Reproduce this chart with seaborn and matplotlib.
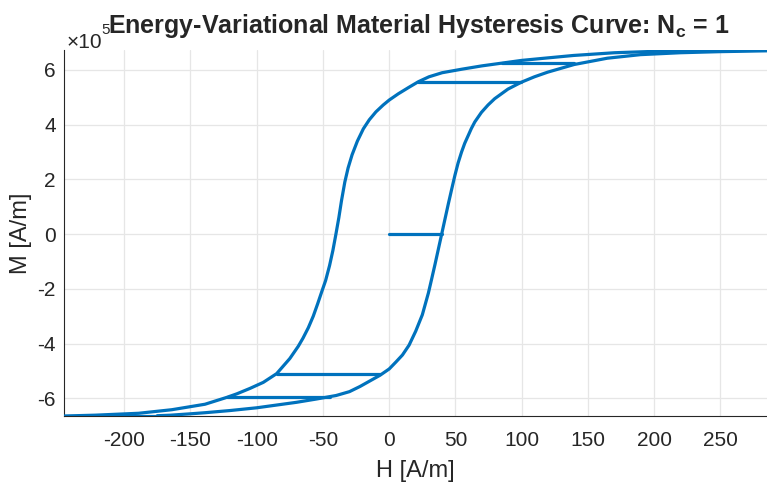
import numpy as np
import pandas as pd
import matplotlib
matplotlib.use("Agg")
import matplotlib.pyplot as plt
import seaborn as sns
from matplotlib.ticker import FixedLocator, FuncFormatter

# ---- data (M in units of 1e5 A/m) ----
# ascending branch
asc_H = [-175, -165, -150, -139, -120, -100, -85, -70, -55, -40, -30, -22, -15, -6.9,
         0, 5, 10, 15, 20, 25, 29.6, 32, 34.6, 37.1, 39.6, 42.1, 44.6, 47.1, 49.6,
         52, 54.6, 57, 59.6, 62, 64.6, 69.6, 74.6, 79.6, 89.6, 99.6, 109.6, 119.6,
         139.6, 164.6, 189.6, 219.6, 250, 285]
asc_M = [-6.64, -6.62, -6.57, -6.53, -6.45, -6.35, -6.25, -6.15, -6.03, -5.90, -5.76,
         -5.57, -5.38, -5.16, -4.93, -4.68, -4.42, -4.06, -3.55, -2.95, -2.15, -1.65,
         -1.10, -0.55, 0.0, 0.55, 1.10, 1.63, 2.15, 2.60, 3.00, 3.32, 3.60, 3.86, 4.10,
         4.45, 4.72, 4.95, 5.30, 5.55, 5.75, 5.92, 6.20, 6.43, 6.56, 6.63, 6.67, 6.70]

# descending branch
desc_H = [285, 240, 200, 170, 139, 115, 100, 85, 70, 55, 40, 30, 22, 15, 6.9, 0,
          -4.5, -10, -15, -19.5, -24, -28, -31, -33.5, -36, -38, -40.2, -42.5, -45,
          -48, -51, -54, -57.3, -61, -65, -68.6, -75, -84.9, -95, -105, -115, -122.6,
          -139, -164, -189, -222, -245]
desc_M = [6.72, 6.70, 6.68, 6.63, 6.53, 6.42, 6.35, 6.25, 6.15, 6.03, 5.90, 5.75,
          5.57, 5.37, 5.13, 4.90, 4.72, 4.47, 4.18, 3.85, 3.40, 2.90, 2.42, 1.90, 1.22,
          0.60, 0.0, -0.60, -1.15, -1.70, -2.12, -2.55, -3.00, -3.42, -3.80, -4.10,
          -4.55, -5.10, -5.42, -5.64, -5.84, -5.97, -6.22, -6.42, -6.55, -6.62, -6.65]

# reversal (constant-M) segments
jump_M = [0.0, 5.57, -5.13, 6.25, -5.97, -6.65]
jump_H_start = [0.0, 22, -84.9, 85, -122.6, -245]
jump_H_end = [39.6, 99.8, -6.9, 139.6, -45, -175]

xticks = [-200, -150, -100, -50, 0, 50, 100, 150, 200, 250]
yticks = [-6, -4, -2, 0, 2, 4, 6]
scale = 1e5

# ---- build table ----
frames = [pd.DataFrame({"H": asc_H, "M": np.array(asc_M) * scale, "seg": "asc"}),
          pd.DataFrame({"H": desc_H, "M": np.array(desc_M) * scale, "seg": "desc"})]
for i, (m, h0, h1) in enumerate(zip(jump_M, jump_H_start, jump_H_end)):
    frames.append(pd.DataFrame({"H": [h0, h1], "M": [m * scale, m * scale], "seg": f"j{i}"}))
df = pd.concat(frames, ignore_index=True)

sns.set_style("white")
plt.rcParams["font.family"] = ["Liberation Sans", "DejaVu Sans"]
plt.rcParams["mathtext.fontset"] = "custom"
plt.rcParams["mathtext.rm"] = "Liberation Sans"
plt.rcParams["mathtext.it"] = "Liberation Sans:italic"
plt.rcParams["mathtext.bf"] = "Liberation Sans:bold"

fig = plt.figure(figsize=(7.67, 4.86), dpi=100)
ax = fig.add_axes([64 / 767, 70 / 486, 703 / 767, 366 / 486])

sns.lineplot(data=df, x="H", y="M", units="seg", estimator=None, sort=False,
             color="#0072BD", linewidth=2.3, ax=ax, legend=False, zorder=3)
for line in ax.lines:
    line.set_solid_joinstyle("round")
    line.set_solid_capstyle("round")

ax.set_xlim(-245.4, 285.1)
ax.set_ylim(-6.65e5, 6.73e5)
ax.xaxis.set_major_locator(FixedLocator(xticks))
ax.yaxis.set_major_locator(FixedLocator([v * scale for v in yticks]))
ax.xaxis.set_major_formatter(FuncFormatter(lambda v, p: f"{v:g}"))
ax.yaxis.set_major_formatter(FuncFormatter(lambda v, p: f"{v / scale:g}"))

ax.grid(True, color="#e6e6e6", linewidth=0.9)
ax.set_axisbelow(True)
for s in ["top", "right"]:
    ax.spines[s].set_visible(False)
for s in ["left", "bottom"]:
    ax.spines[s].set_color("#262626")
    ax.spines[s].set_linewidth(0.8)
ax.tick_params(axis="both", direction="in", length=4, width=0.8, color="#262626",
               labelsize=15, labelcolor="#262626")
ax.tick_params(axis="x", pad=11)
ax.tick_params(axis="y", pad=6)

ax.set_xlabel("H [A/m]", fontsize=17, color="#262626", labelpad=7)
ax.set_ylabel("M [A/m]", fontsize=17, color="#262626", labelpad=4)

ax.text(0.004, 0.995, "\u00d710", transform=ax.transAxes, fontsize=15,
        color="#262626", ha="left", va="bottom", zorder=1)
ax.text(0.0525, 1.035, "5", transform=ax.transAxes, fontsize=11,
        color="#262626", ha="left", va="bottom", zorder=1)
ax.set_title(r"Energy-Variational Material Hysteresis Curve: N$_{\mathbf{c}}$ = 1",
             fontsize=18, fontweight="bold", pad=12, zorder=5, x=0.505)

fig.savefig("out.png", dpi=100)
